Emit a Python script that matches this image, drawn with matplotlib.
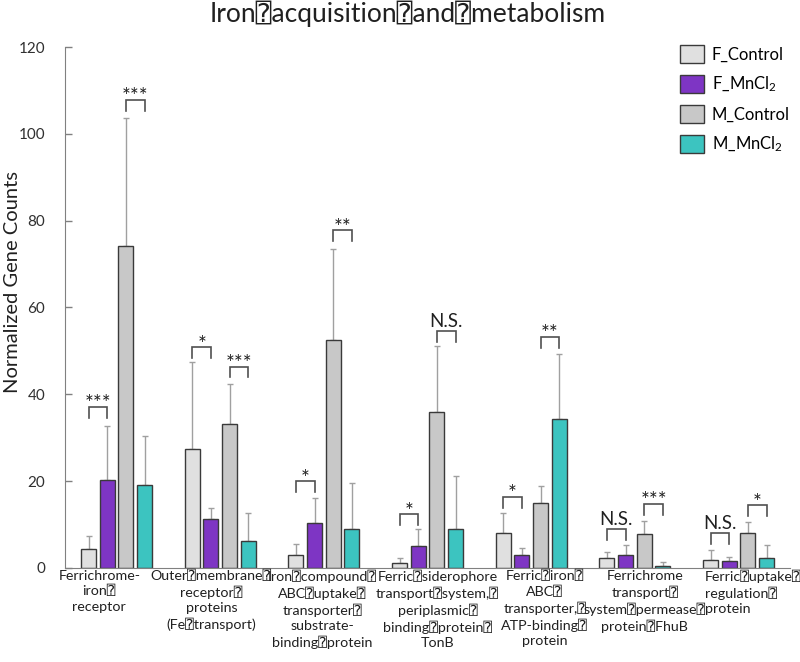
import numpy as np
import matplotlib
matplotlib.use('Agg')
import matplotlib.pyplot as plt
from matplotlib.patches import Patch
import matplotlib.transforms as mtransforms

plt.rcParams['font.family'] = ['Lato', 'DejaVu Sans', 'DejaVu Sans Mono']
plt.rcParams['mathtext.default'] = 'regular'

Q = '\u2370'  # the boxed "?" glyph shown in place of spaces

title = f'Iron{Q}acquisition{Q}and{Q}metabolism'
categories = [
    f'Ferrichrome-\niron{Q}\nreceptor',
    f'Outer{Q}membrane{Q}\nreceptor{Q}\nproteins\n(Fe{Q}transport)',
    f'Iron{Q}compound{Q}\nABC{Q}uptake{Q}\ntransporter{Q}\nsubstrate-\nbinding{Q}protein',
    f'Ferric{Q}siderophore\ntransport{Q}system,{Q}\nperiplasmic{Q}\nbinding{Q}protein{Q}\nTonB',
    f'Ferric{Q}iron{Q}\nABC{Q}\ntransporter,{Q}\nATP-binding{Q}\nprotein',
    f'Ferrichrome\ntransport{Q}\nsystem{Q}permease{Q}\nprotein{Q}FhuB',
    f'Ferric{Q}uptake{Q}\nregulation{Q}\nprotein',
]
series = ['F_Control', 'F_MnCl$_2$', 'M_Control', 'M_MnCl$_2$']

f_control = [4.3, 27.3, 2.9, 1.1, 8.1, 2.2, 1.8]
f_mncl2 = [20.2, 11.2, 10.3, 5.1, 3.1, 3.1, 1.5]
m_control = [74.2, 33.2, 52.5, 35.9, 15.0, 7.8, 8.1]
m_mncl2 = [19.1, 6.3, 9.0, 8.9, 34.3, 0.4, 2.2]

f_control_sd = [3.1, 20.1, 2.7, 1.1, 4.5, 1.4, 2.4]
f_mncl2_sd = [12.6, 2.6, 5.8, 3.9, 1.6, 2.1, 1.0]
m_control_sd = [29.4, 9.2, 21.0, 15.3, 3.8, 3.0, 2.4]
m_mncl2_sd = [11.2, 6.3, 10.5, 12.4, 15.0, 0.9, 3.0]

sig_f = ['***', '*', '*', '*', '*', 'N.S.', 'N.S.']
sig_f_top = [37.1, 50.8, 20.0, 12.4, 16.4, 9.0, 8.1]
sig_m = ['***', '***', '**', 'N.S.', '**', '***', '*']
sig_m_top = [107.8, 46.4, 77.8, 54.5, 53.2, 14.8, 14.4]

colors = ['#e0e0e0', '#7e35c4', '#c8c8c8', '#3cc4c0']
values = [f_control, f_mncl2, m_control, m_mncl2]
sds = [f_control_sd, f_mncl2_sd, m_control_sd, m_mncl2_sd]

fig = plt.figure(figsize=(8, 6.62), dpi=100)
ax = fig.add_axes([0.081, 0.142, 0.907, 0.787])

x = np.arange(len(categories))
width = 0.145
offsets = [-0.27, -0.09, 0.09, 0.27]

for vals, sd, off, col, name in zip(values, sds, offsets, colors, series):
    ax.bar(x + off, vals, width, color=col, edgecolor='#3a3a3a', linewidth=1.0,
           label=name, zorder=2)
    ax.errorbar(x + off, vals, yerr=[np.zeros(len(sd)), sd], fmt='none',
                ecolor='#a0a0a0', elinewidth=1.0, capsize=2.5, capthick=1.0, zorder=1)

# significance brackets
leg = 2.5
def bracket(x0, x1, top, text):
    ax.plot([x0, x0, x1, x1], [top - leg, top, top, top - leg], color='#505050',
            linewidth=1.2, zorder=3, solid_joinstyle='miter')
    ns = text == 'N.S.'
    ax.annotate(text, ((x0 + x1) / 2, top), xytext=(0, 3 if ns else -2.5),
                textcoords='offset points', ha='center', va='baseline',
                fontsize=13.5 if ns else 15, color='#202020')

for i in range(len(categories)):
    bracket(x[i] + offsets[0], x[i] + offsets[1], sig_f_top[i], sig_f[i])
    bracket(x[i] + offsets[2], x[i] + offsets[3], sig_m_top[i], sig_m[i])

ax.set_xlim(-0.5, 6.5)
ax.set_ylim(0, 120)
ax.set_yticks(range(0, 121, 20))
ax.set_xticks([])
ax.tick_params(axis='y', direction='in', length=5, width=1, color='#808080',
               pad=14, labelsize=11, labelcolor='#303030')
for s in ['top', 'right']:
    ax.spines[s].set_visible(False)
for s in ['left', 'bottom']:
    ax.spines[s].set_color('#808080')
ax.set_ylabel('Normalized Gene Counts', fontsize=14.5, color='#202020')
ax.yaxis.set_label_coords(-0.061, 0.549)

# category labels under the axis
label_x = [-0.167, 0.914, 1.981, 3.096, 4.129, 5.094, 5.673]
trans = mtransforms.blended_transform_factory(ax.transData, ax.transAxes)
for i, (lx, lab) in enumerate(zip(label_x, categories)):
    last = i == len(categories) - 1
    ax.text(lx, -0.003, lab, transform=trans, ha='left' if last else 'center',
            va='top', multialignment='left' if last else 'center',
            fontsize=10.3, linespacing=1.33, color='#202020')

handles = [Patch(facecolor=c, edgecolor='#3a3a3a', linewidth=1.0) for c in colors]
fig.legend(handles, series, loc='upper left', bbox_to_anchor=(0.85, 0.932),
           frameon=False, borderpad=0, borderaxespad=0, fontsize=12,
           handlelength=1.45, handleheight=1.3, labelspacing=0.68,
           handletextpad=0.45)

fig.text(0.509, 1 - 22 / 662, title, ha='center', va='baseline', fontsize=19,
         color='#202020')

fig.savefig('out.png', dpi=100)
